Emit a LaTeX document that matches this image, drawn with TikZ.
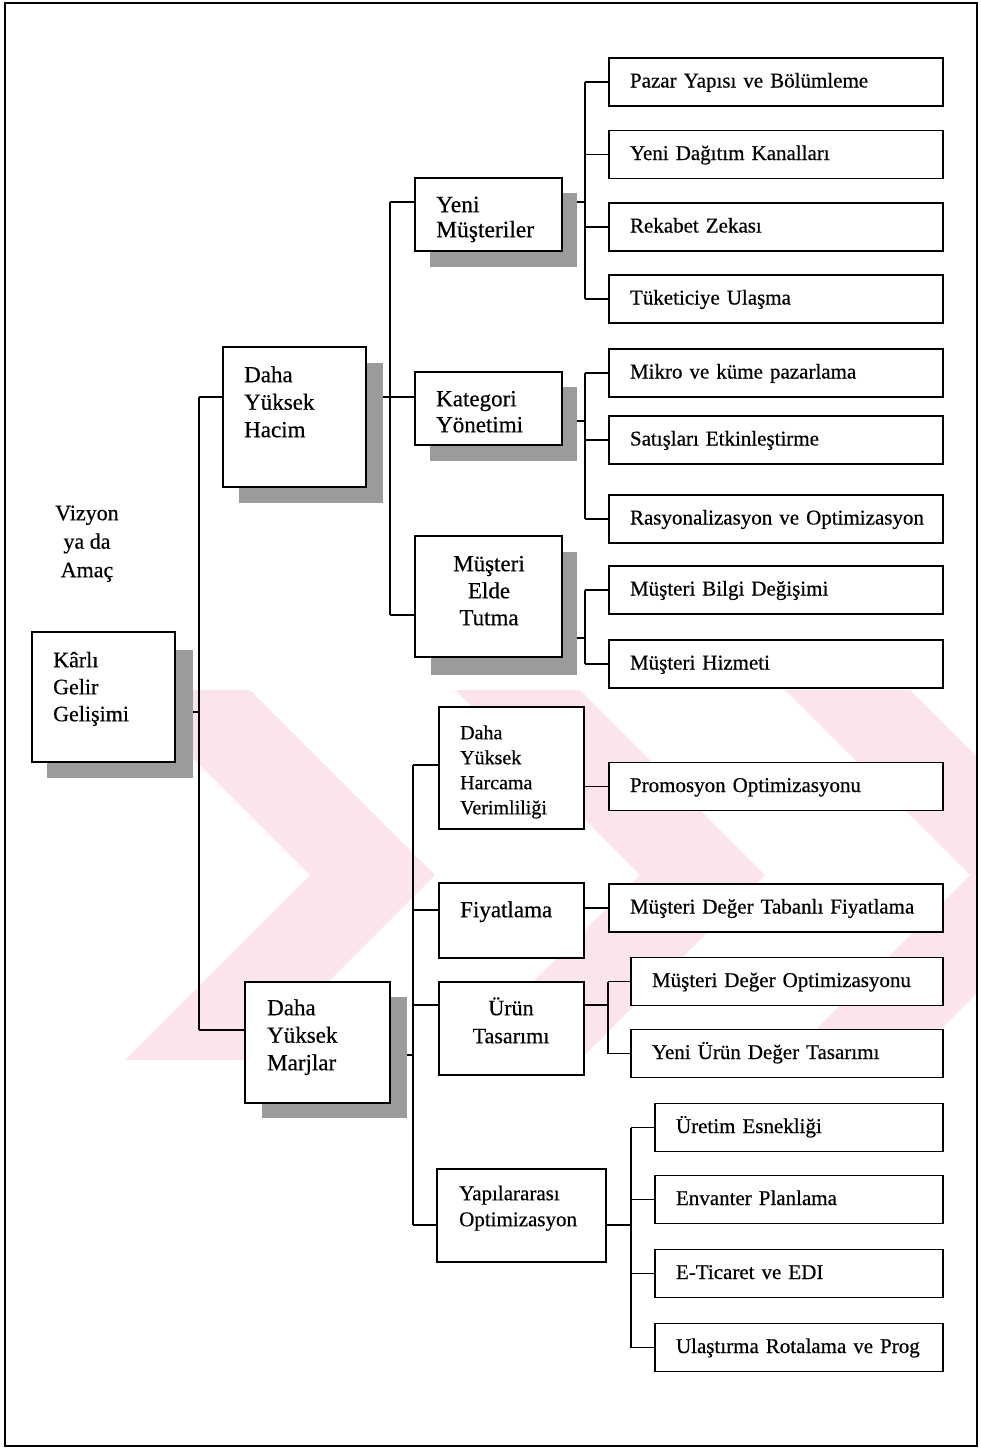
\documentclass[tikz,border=0pt]{standalone}
\usepackage{fontspec}
\setmainfont{Liberation Serif}[FakeBold=0.5]
\usetikzlibrary{calc}
\definecolor{wm}{RGB}{252,229,234}
\definecolor{shade}{RGB}{155,155,155}
% strut that fixes the top of a text block 22pt above its first baseline
\newcommand{\fl}{\rule{0pt}{22pt}}

\begin{document}
\begin{tikzpicture}[x=1pt,y=-1pt,
  frame/.style={draw, line width=1.6pt},
  box/.style={draw, line width=1.8pt, fill=white, inner sep=0pt},
  shadowbox/.style={fill=shade, draw=none, inner sep=0pt},
  rbox/.style={draw, line width=1.8pt, fill=white, align=left, inner xsep=0pt,
    inner ysep=0pt, text height=15pt, text depth=4pt, minimum height=48pt,
    font=\fontsize{21}{25}\selectfont, execute at begin node={\hspace*{21pt}}},
  txt/.style={inner sep=0pt, align=left, anchor=north west},
  ctxt/.style={inner sep=0pt, align=center, anchor=north},
  link/.style={line width=1.6pt}
]
\useasboundingbox (0,0) rectangle (980,1448);

% faint background emblem
\begin{scope}
  \clip (5,690) rectangle (977,1060);
  \foreach \s in {0,330,660}
    \fill[wm, xshift=\s] (125,690) -- (250,690) -- (435,875) -- (250,1060) -- (125,1060) -- (310,875) -- cycle;
\end{scope}

% outer frame
\draw[frame] (5,3) rectangle (977,1446);

% shadows
\node[shadowbox, minimum width=146, minimum height=128] (kgS)  at (120,714) {};
\node[shadowbox, minimum width=144, minimum height=140] (dyhS) at (311,433) {};
\node[shadowbox, minimum width=147, minimum height=74]  (ymS)  at (503.5,230) {};
\node[shadowbox, minimum width=147, minimum height=74]  (katS) at (503.5,424) {};
\node[shadowbox, minimum width=146, minimum height=123] (metS) at (504,613.5) {};
\node[shadowbox, minimum width=145, minimum height=121] (dymS) at (334.5,1057.5) {};

% main boxes
\node[box, minimum width=143, minimum height=130] (kg)  at (103.5,697) {};
\node[box, minimum width=143, minimum height=140] (dyh) at (294.5,417) {};
\node[box, minimum width=147, minimum height=73]  (ym)  at (488.5,214.5) {};
\node[box, minimum width=147, minimum height=73]  (kat) at (488.5,408.5) {};
\node[box, minimum width=147, minimum height=121] (met) at (488.5,596.5) {};
\node[box, minimum width=145, minimum height=121] (dym) at (317.5,1042.5) {};
\node[box, minimum width=145, minimum height=122] (dyhv) at (511.5,768) {};
\node[box, minimum width=145, minimum height=75]  (fiy) at (511.5,920.5) {};
\node[box, minimum width=145, minimum height=93]  (uru) at (511.5,1028.5) {};
\node[box, minimum width=169, minimum height=93]  (yap) at (521.5,1215.5) {};

% box labels
\node[ctxt, font=\fontsize{22}{28.5}\selectfont] (viz) at (87,498) {\fl Vizyon\\ya da\\Amaç};
\node[txt, font=\fontsize{22}{27}\selectfont] (kgT) at (53,645) {\fl Kârlı\\Gelir\\Gelişimi};
\node[txt, font=\fontsize{23}{27.5}\selectfont] (dyhT) at (244,360) {\fl Daha\\Yüksek\\Hacim};
\node[txt, font=\fontsize{23.5}{25}\selectfont] (ymT) at (436,190) {\fl Yeni\\Müşteriler};
\node[txt, font=\fontsize{23}{26}\selectfont] (katT) at (436,384) {\fl Kategori\\Yönetimi};
\node[ctxt, font=\fontsize{23}{27}\selectfont] (metT) at (489,549) {\fl Müşteri\\Elde\\Tutma};
\node[txt, font=\fontsize{23}{27.5}\selectfont] (dymT) at (267,993) {\fl Daha\\Yüksek\\Marjlar};
\node[txt, font=\fontsize{20}{25}\selectfont] (dyhvT) at (460,717) {\fl Daha\\Yüksek\\Harcama\\Verimliliği};
\node[txt, font=\fontsize{23}{27}\selectfont] (fiyT) at (460,895) {\fl Fiyatlama};
\node[ctxt, font=\fontsize{22}{28}\selectfont] (uruT) at (511,993) {\fl Ürün\\Tasarımı};
\node[txt, font=\fontsize{21}{26}\selectfont] (yapT) at (459,1178) {\fl Yapılararası\\Optimizasyon};

% leaf boxes
\node[rbox, text width=334] (r1)  at (776,82)     {Pazar Yapısı ve Bölümleme};
\node[rbox, text width=334] (r2)  at (776,154.5)  {Yeni Dağıtım Kanalları};
\node[rbox, text width=334] (r3)  at (776,227)    {Rekabet Zekası};
\node[rbox, text width=334] (r4)  at (776,299)    {Tüketiciye Ulaşma};
\node[rbox, text width=334] (r5)  at (776,373)    {Mikro ve küme pazarlama};
\node[rbox, text width=334] (r6)  at (776,440)    {Satışları Etkinleştirme};
\node[rbox, text width=334] (r7)  at (776,519)    {Rasyonalizasyon ve Optimizasyon};
\node[rbox, text width=334] (r8)  at (776,590)    {Müşteri Bilgi Değişimi};
\node[rbox, text width=334] (r9)  at (776,664)    {Müşteri Hizmeti};
\node[rbox, text width=334] (r10) at (776,786.5)  {Promosyon Optimizasyonu};
\node[rbox, text width=334] (r11) at (776,908)    {Müşteri Değer Tabanlı Fiyatlama};
\node[rbox, text width=312] (r12) at (787,981.5)  {Müşteri Değer Optimizasyonu};
\node[rbox, text width=312] (r13) at (787,1053.5) {Yeni Ürün Değer Tasarımı};
\node[rbox, text width=288] (r14) at (799,1127.5) {Üretim Esnekliği};
\node[rbox, text width=288] (r15) at (799,1199.5) {Envanter Planlama};
\node[rbox, text width=288] (r16) at (799,1273.5) {E-Ticaret ve EDI};
\node[rbox, text width=288] (r17) at (799,1347.5) {Ulaştırma Rotalama ve Prog};

% junction points
\coordinate (a1) at (199,397);
\coordinate (a2) at (199,712);
\coordinate (a3) at (199,1030);
\coordinate (b1) at (390,202);
\coordinate (b2) at (390,397);
\coordinate (b3) at (390,615);
\coordinate (c0) at (585,202);
\coordinate (d0) at (585,421);
\coordinate (e0) at (585,638);
\coordinate (f0) at (413,1055);
\coordinate (f1) at (413,765);
\coordinate (f2) at (413,910);
\coordinate (f3) at (413,1005);
\coordinate (f4) at (413,1225);
\coordinate (i0) at (608,1005);
\coordinate (j0) at (631,1225);

% root level
\draw[link] (a1) -- (a3);
\draw[link] (a2 -| kgS.east) -- (a2);
\draw[link] (a1) -- (a1 -| dyh.west);
\draw[link] (a3) -- (a3 -| dym.west);

% volume branch
\draw[link] (b1) -- (b3);
\draw[link] (b1) -- (b1 -| ym.west);
\draw[link] (b2 -| dyhS.east) -- (b2 -| kat.west);
\draw[link] (b3) -- (b3 -| met.west);

\draw[link] (c0 -| ymS.east) -- (c0);
\draw[link] (c0 |- r1.west) -- (c0 |- r4.west);
\foreach \r in {r1,r2,r3,r4} \draw[link] (c0 |- \r.west) -- (\r.west);

\draw[link] (d0 -| katS.east) -- (d0);
\draw[link] (d0 |- r5.west) -- (d0 |- r7.west);
\foreach \r in {r5,r6,r7} \draw[link] (d0 |- \r.west) -- (\r.west);

\draw[link] (e0 -| metS.east) -- (e0);
\draw[link] (e0 |- r8.west) -- (e0 |- r9.west);
\foreach \r in {r8,r9} \draw[link] (e0 |- \r.west) -- (\r.west);

% margin branch
\draw[link] (f0 -| dymS.east) -- (f0);
\draw[link] (f1) -- (f4);
\draw[link] (f1) -- (f1 -| dyhv.west);
\draw[link] (f2) -- (f2 -| fiy.west);
\draw[link] (f3) -- (f3 -| uru.west);
\draw[link] (f4) -- (f4 -| yap.west);

\draw[link] (dyhv.east |- r10.west) -- (r10.west);
\draw[link] (fiy.east |- r11.west) -- (r11.west);

\draw[link] (i0 -| uru.east) -- (i0);
\draw[link] (i0 |- r12.west) -- (i0 |- r13.west);
\foreach \r in {r12,r13} \draw[link] (i0 |- \r.west) -- (\r.west);

\draw[link] (j0 -| yap.east) -- (j0);
\draw[link] (j0 |- r14.west) -- (j0 |- r17.west);
\foreach \r in {r14,r15,r16,r17} \draw[link] (j0 |- \r.west) -- (\r.west);

\end{tikzpicture}
\end{document}
